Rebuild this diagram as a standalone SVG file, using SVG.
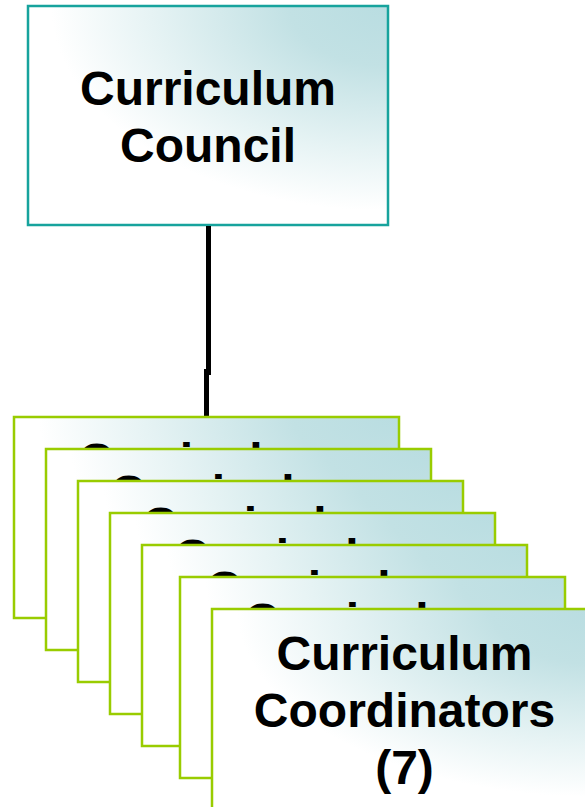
<svg xmlns="http://www.w3.org/2000/svg" width="585" height="807" viewBox="0 0 585 807">
<defs>
<radialGradient id="g" cx="1" cy="0" r="1.1" fx="1" fy="0">
<stop offset="0" stop-color="#b9dde1"/>
<stop offset="0.25" stop-color="#c2e1e4"/>
<stop offset="0.6" stop-color="#e6f3f4"/>
<stop offset="0.85" stop-color="#ffffff"/>
<stop offset="1" stop-color="#ffffff"/>
</radialGradient>
<style>
.top{fill:url(#g);stroke:#17a39d;stroke-width:2.5}
.coord{fill:url(#g);stroke:#99cc00;stroke-width:2.5}
.t{font-family:"Liberation Sans",Arial,sans-serif;font-weight:bold;font-size:48px;fill:#000;text-anchor:middle}
.c{stroke:#000;stroke-width:5;fill:none}
</style>
</defs>
<g id="curriculum-council">
<rect class="top" x="28" y="6" width="360" height="219"/>
<text class="t" x="208" y="105">Curriculum</text>
<text class="t" x="208" y="162">Council</text>
</g>
<g id="connectors">
<line class="c" x1="208.5" y1="226" x2="208.5" y2="375"/>
<line class="c" x1="206.5" y1="369" x2="206.5" y2="416"/>
</g>
<g id="coordinator-1">
<rect class="coord" x="14" y="417" width="385" height="201"/>
<text class="t" x="206.5" y="477">Curriculum</text>
<text class="t" x="206.5" y="534">Coordinators</text>
<text class="t" x="206.5" y="591">(7)</text>
</g>
<g id="coordinator-2">
<rect class="coord" x="46" y="449" width="385" height="201"/>
<text class="t" x="238.5" y="509">Curriculum</text>
<text class="t" x="238.5" y="566">Coordinators</text>
<text class="t" x="238.5" y="623">(7)</text>
</g>
<g id="coordinator-3">
<rect class="coord" x="78" y="481" width="385" height="201"/>
<text class="t" x="270.5" y="541">Curriculum</text>
<text class="t" x="270.5" y="598">Coordinators</text>
<text class="t" x="270.5" y="655">(7)</text>
</g>
<g id="coordinator-4">
<rect class="coord" x="110" y="513" width="385" height="201"/>
<text class="t" x="302.5" y="573">Curriculum</text>
<text class="t" x="302.5" y="630">Coordinators</text>
<text class="t" x="302.5" y="687">(7)</text>
</g>
<g id="coordinator-5">
<rect class="coord" x="142" y="545" width="385" height="201"/>
<text class="t" x="334.5" y="605">Curriculum</text>
<text class="t" x="334.5" y="662">Coordinators</text>
<text class="t" x="334.5" y="719">(7)</text>
</g>
<g id="coordinator-6">
<rect class="coord" x="180" y="577" width="385" height="201"/>
<text class="t" x="372.5" y="637">Curriculum</text>
<text class="t" x="372.5" y="694">Coordinators</text>
<text class="t" x="372.5" y="751">(7)</text>
</g>
<g id="coordinator-7">
<rect class="coord" x="212" y="609" width="385" height="201"/>
<text class="t" x="404.5" y="670">Curriculum</text>
<text class="t" x="404.5" y="727">Coordinators</text>
<text class="t" x="404.5" y="784">(7)</text>
</g>
</svg>
